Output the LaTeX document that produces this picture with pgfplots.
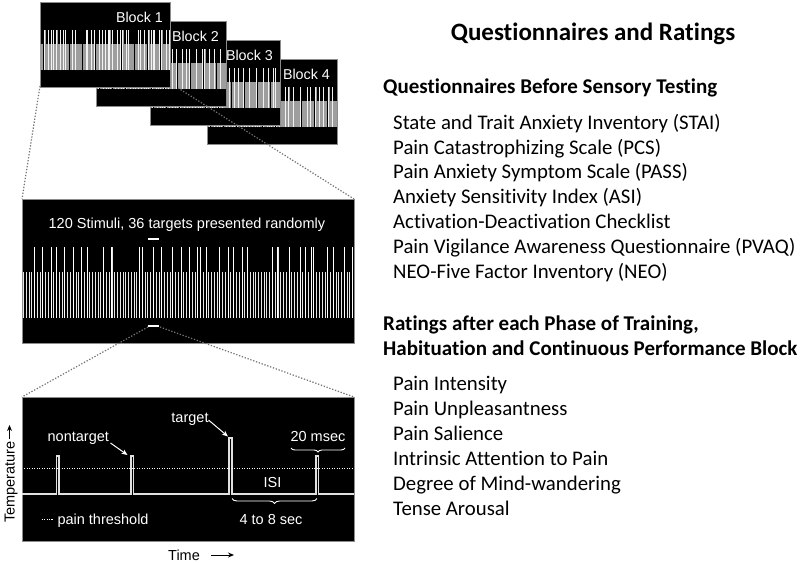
\documentclass[border=0pt]{standalone}
\usepackage{pgfplots}
\pgfplotsset{compat=1.18}
\usepackage{pgfplotstable}
\usepackage{fontspec}
\setmainfont{Carlito}[Ligatures=NoCommon]
\newfontfamily\arial{Liberation Sans}
\usetikzlibrary{arrows.meta,decorations.pathreplacing}
\newcommand\lf{\arial\fontsize{14.5bp}{17bp}\selectfont}

% stimulus heights: 46 = nontarget, 71 = target (h1 = block 1 / zoomed panel)
\pgfplotstableread[row sep=\\]{
i h1 h2 h3 h4\\
0 46 46 46 46\\ 1 46 46 46 46\\ 2 46 71 71 71\\ 3 46 46 46 46\\ 4 71 46 46 46\\
5 46 46 46 46\\ 6 46 71 71 71\\ 7 71 46 46 46\\ 8 46 46 46 46\\ 9 46 71 71 71\\
10 71 46 46 46\\ 11 46 71 71 71\\ 12 71 46 46 46\\ 13 46 71 71 71\\ 14 46 46 46 46\\
15 71 46 46 46\\ 16 46 46 46 46\\ 17 46 71 71 71\\ 18 71 46 46 46\\ 19 46 46 46 46\\
20 46 71 71 71\\ 21 71 46 46 46\\ 22 46 46 46 46\\ 23 71 71 71 71\\ 24 46 46 46 46\\
25 46 71 71 71\\ 26 46 46 46 46\\ 27 46 46 46 46\\ 28 46 71 71 71\\ 29 71 46 46 46\\
30 46 46 46 46\\ 31 46 71 71 71\\ 32 71 46 46 46\\ 33 46 46 46 46\\ 34 46 71 71 71\\
35 46 46 46 46\\ 36 46 71 71 71\\ 37 46 46 46 46\\ 38 46 46 46 46\\ 39 46 71 71 71\\
40 46 46 46 46\\ 41 46 71 71 71\\ 42 71 46 46 46\\ 43 71 46 46 46\\ 44 46 71 71 71\\
45 46 46 46 46\\ 46 46 71 71 71\\ 47 71 46 46 46\\ 48 46 71 71 71\\ 49 46 46 46 46\\
50 71 46 46 46\\ 51 46 46 46 46\\ 52 46 71 71 71\\ 53 46 46 46 46\\ 54 71 46 46 46\\
55 46 71 71 71\\ 56 46 46 46 46\\ 57 71 71 71 71\\ 58 46 46 46 46\\ 59 46 71 71 71\\
60 71 46 46 46\\ 61 46 46 46 46\\ 62 46 71 71 71\\ 63 71 46 46 46\\ 64 71 71 71 71\\
65 46 46 46 46\\ 66 71 71 71 71\\ 67 46 46 46 46\\ 68 46 46 46 46\\ 69 46 46 46 46\\
70 46 71 46 46\\ 71 71 46 46 46\\ 72 46 46 46 71\\ 73 46 46 71 46\\ 74 71 71 46 46\\
75 46 46 46 71\\ 76 71 46 46 46\\ 77 46 46 71 46\\ 78 46 46 46 46\\ 79 71 71 46 71\\
80 46 46 46 46\\ 81 71 46 71 46\\ 82 46 46 46 46\\ 83 46 71 46 46\\ 84 46 46 46 46\\
85 46 46 46 46\\ 86 46 71 71 71\\ 87 46 46 46 46\\ 88 46 46 46 46\\ 89 46 46 46 46\\
90 71 46 46 46\\ 91 46 46 71 46\\ 92 71 71 46 71\\ 93 46 46 46 46\\ 94 46 46 46 46\\
95 46 46 46 71\\ 96 71 46 46 46\\ 97 46 46 46 46\\ 98 46 71 71 46\\ 99 46 46 46 46\\
100 71 71 46 71\\ 101 46 46 46 46\\ 102 71 46 46 46\\ 103 46 46 46 71\\ 104 71 71 71 46\\
105 71 46 46 46\\ 106 46 46 46 46\\ 107 46 46 46 71\\ 108 46 46 46 46\\ 109 46 71 71 46\\
110 71 46 46 46\\ 111 46 46 46 46\\ 112 71 46 46 71\\ 113 46 46 71 46\\ 114 46 71 46 46\\
115 46 46 71 71\\ 116 71 46 46 46\\ 117 46 46 46 46\\ 118 46 46 46 46\\ 119 71 46 46 46\\
}\stim

\pgfplotsset{
  panel/.style={scale only axis, ticks=none, anchor=north west,
    axis background/.style={fill=black},
    axis line style={draw=black!45, line width=0.6bp}},
  blockax/.style={panel, width=130bp, height=85bp,
    xmin=-0.5, xmax=119.5, ymin=-29.8, ymax=119.3},
}
\newcommand\blockbars[2]{%
  \addplot[ycomb, white!62!black, line width=0.5bp] table[x=i,y=#1]{\stim};
  \addplot[ycomb, white!95!black, line width=0.8bp, restrict y to domain=60:80] table[x=i,y=#1]{\stim};
  \node[anchor=base east, text=white, font=\arial\fontsize{14.3bp}{16bp}\selectfont]
    at (axis cs:116.2,84.2) {Block #2};
}

\begin{document}
\begin{tikzpicture}[x=1bp,y=-1bp]
\useasboundingbox (0,0) rectangle (800,563);

\begin{axis}[blockax, at={(207bp,-59bp)}]
\blockbars{h4}{4}
\end{axis}
\begin{axis}[blockax, at={(150bp,-40bp)}]
\blockbars{h3}{3}
\end{axis}
\begin{axis}[blockax, at={(96bp,-21bp)}]
\blockbars{h2}{2}
\end{axis}
\begin{axis}[blockax, at={(40bp,-2bp)}]
\blockbars{h1}{1}
\end{axis}

\draw[black!55, line width=1.2bp, dash pattern=on 1.3bp off 1.7bp] (40,86) -- (22,199);
\draw[black!55, line width=1.2bp, dash pattern=on 1.3bp off 1.7bp] (178,88) -- (354,199);

\begin{axis}[panel, at={(22bp,-199bp)}, width=332bp, height=144bp,
  xmin=-0.5, xmax=119.5, ymin=-25, ymax=119]
\addplot[ycomb, white!90!black, line width=0.8bp] table[x=i,y=h1]{\stim};
\addplot[ycomb, white, line width=0.9bp, restrict y to domain=60:80] table[x=i,y=h1]{\stim};
\draw[white, line width=2.5bp] (axis cs:45,79) -- (axis cs:49,79);
\draw[white, line width=2.5bp] (axis cs:45,-8) -- (axis cs:49,-8);
\node[anchor=base, text=white, font=\lf] at (axis cs:59.1,89.7) {120 Stimuli, 36 targets presented randomly};
\end{axis}

\draw[black!55, line width=1.2bp, dash pattern=on 1.3bp off 1.7bp] (148,327) -- (22,397);
\draw[black!55, line width=1.2bp, dash pattern=on 1.3bp off 1.7bp] (160,327) -- (354,397);

\begin{axis}[panel, at={(22bp,-397bp)}, width=332bp, height=144bp,
  xmin=22, xmax=354, ymin=397, ymax=541, y dir=reverse, clip=false]
\addplot[white!88!black, line width=1.1bp] coordinates {
 (22,494) (56.5,494) (56.5,456) (59,456) (59,494)
 (131,494) (131,456) (133.5,456) (133.5,494)
 (229,494) (229,438) (232,438) (232,494)
 (316,494) (316,456) (318.5,456) (318.5,494) (354,494)};
\addplot[white, line width=1.2bp, dash pattern=on 1.2bp off 1.3bp] coordinates {(24,468.5) (352,468.5)};
\node[anchor=base, text=white, font=\lf] at (axis cs:78.3,441.7) {nontarget};
\draw[white, line width=1bp, -{Stealth[length=6bp,width=5bp]}] (axis cs:110.5,443) -- (axis cs:127.5,455);
\node[anchor=base, text=white, font=\lf] at (axis cs:190,422.7) {target};
\draw[white, line width=1bp, -{Stealth[length=6bp,width=5bp]}] (axis cs:208.5,420) -- (axis cs:228,436.5);
\node[anchor=base, text=white, font=\lf] at (axis cs:318,441.7) {20 msec};
\draw[white, line width=0.9bp, decorate, decoration={brace, amplitude=4bp}] (axis cs:345,448) -- (axis cs:291,448);
\node[anchor=base, text=white, font=\lf] at (axis cs:272.5,487.3) {ISI};
\draw[white, line width=0.9bp, decorate, decoration={brace, amplitude=5bp}] (axis cs:317,498.5) -- (axis cs:232,498.5);
\node[anchor=base, text=white, font=\lf] at (axis cs:271,524.5) {4 to 8 sec};
\draw[white, line width=1.2bp, dash pattern=on 1.2bp off 1.2bp] (axis cs:41.7,519.5) -- (axis cs:53.5,519.5);
\node[anchor=base west, text=white, font=\lf, inner sep=0pt] at (axis cs:57.3,524) {pain threshold};
\end{axis}

\node[rotate=90, anchor=base west, font=\lf, inner sep=0pt] at (14.5,523) {Temperature};
\draw[line width=1bp, -{Stealth[length=6bp,width=5bp]}] (9.5,439) -- (9.5,425);
\node[anchor=base west, font=\lf, inner sep=0pt] at (168,560) {Time};
\draw[line width=1bp, -{Stealth[length=6bp,width=5bp]}] (211,555) -- (234,555);

% right-hand text
\node[anchor=base, font=\bfseries\fontsize{25bp}{30bp}\selectfont] at (593,41) {Questionnaires and Ratings};
\begin{scope}[every node/.style={anchor=base west, inner sep=0pt, font=\fontsize{20.8bp}{25bp}\selectfont}]
\node[font=\bfseries\fontsize{21bp}{25bp}\selectfont] at (383,93.3) {Questionnaires Before Sensory Testing};
\node at (393,129.3) {State and Trait Anxiety Inventory (STAI)};
\node at (393,154.2) {Pain Catastrophizing Scale (PCS)};
\node at (393,179) {Pain Anxiety Symptom Scale (PASS)};
\node at (393,203.9) {Anxiety Sensitivity Index (ASI)};
\node at (393,228.7) {Activation-Deactivation Checklist};
\node at (393,253.6) {Pain Vigilance Awareness Questionnaire (PVAQ)};
\node at (393,278.4) {NEO-Five Factor Inventory (NEO)};
\node[font=\bfseries\fontsize{21bp}{25bp}\selectfont] at (383,330) {Ratings after each Phase of Training,};
\node[font=\bfseries\fontsize{21bp}{25bp}\selectfont] at (383,355) {Habituation and Continuous Performance Block};
\node at (393,390.7) {Pain Intensity};
\node at (393,415.7) {Pain Unpleasantness};
\node at (393,440.7) {Pain Salience};
\node at (393,465.7) {Intrinsic Attention to Pain};
\node at (393,490.7) {Degree of Mind-wandering};
\node at (393,515.7) {Tense Arousal};
\end{scope}
\end{tikzpicture}
\end{document}
